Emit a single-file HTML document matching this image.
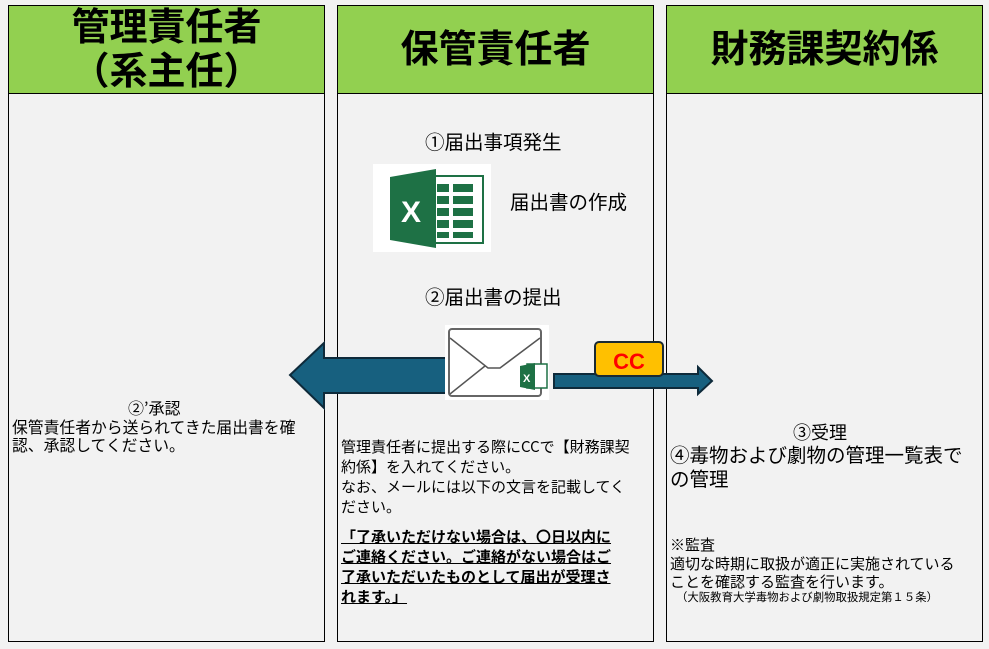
<!DOCTYPE html>
<html><head><meta charset="utf-8">
<style>
body{margin:0;width:989px;height:649px;background:#f2f2f2;position:relative;overflow:hidden;font-family:"Liberation Sans","Noto Sans CJK JP",sans-serif;}
.col{position:absolute;top:5px;height:637px;border:1px solid #000;background:#f2f2f2;box-sizing:border-box;}
.hd{position:absolute;left:0;right:0;top:0;height:87px;background:#92d050;border-bottom:1px solid #000;display:flex;align-items:center;justify-content:center;text-align:center;font-weight:bold;font-size:38px;line-height:44px;color:#000;}
.t{position:absolute;font-size:15px;line-height:18px;color:#000;white-space:nowrap;font-family:"Noto Sans CJK JP",sans-serif;}
</style></head><body>
<div class="col" style="left:8px;width:317px"><div class="hd">管理責任者<br>（系主任）</div></div>
<div class="col" style="left:337px;width:317px"><div class="hd">保管責任者</div></div>
<div class="col" style="left:666px;width:317px"><div class="hd">財務課契約係</div></div>

<div class="t" style="left:425px;top:129px;font-size:19.5px;line-height:24px">①届出事項発生</div>
<div style="position:absolute;left:373px;top:164px;width:118px;height:88px;background:#fff"></div>
<svg style="position:absolute;left:373px;top:164px" width="118" height="88">
<rect x="60" y="12" width="50" height="67" fill="#fff" stroke="#1e7145" stroke-width="2"/>
<g fill="#1e7145"><rect x="64" y="20" width="12" height="8"/><rect x="80" y="20" width="20" height="8"/>
<rect x="64" y="32" width="12" height="8"/><rect x="80" y="32" width="20" height="8"/>
<rect x="64" y="44" width="12" height="8"/><rect x="80" y="44" width="20" height="8"/>
<rect x="64" y="56" width="12" height="8"/><rect x="80" y="56" width="20" height="8"/>
<rect x="64" y="68" width="12" height="6"/><rect x="80" y="68" width="20" height="6"/></g>
<polygon points="17,13 63,5 63,84 17,76" fill="#1e7145"/>
<text x="28" y="58" font-family="Liberation Sans" font-weight="bold" font-size="30" fill="#fff">X</text>
</svg>
<div class="t" style="left:510px;top:189px;font-size:19.5px;line-height:24px">届出書の作成</div>
<div class="t" style="left:425px;top:284px;font-size:19.5px;line-height:24px">②届出書の提出</div>

<svg style="position:absolute;left:0;top:0" width="989" height="649">
<polygon points="446,358 324,358 324,343 290,375 324,408 324,393 446,393" fill="#17607f" stroke="#0e2a3a" stroke-width="2"/>
<polygon points="554,374 698,374 698,367 712,381 698,394 698,388 554,388" fill="#17607f" stroke="#0e2a3a" stroke-width="2"/>
<rect x="445" y="325" width="104" height="75" fill="#fff"/>
<rect x="449" y="329" width="92" height="67" rx="3" fill="#fff" stroke="#666" stroke-width="2"/>
<polyline points="450,338 488,368 500,368 540,338" fill="none" stroke="#555" stroke-width="1.5"/>
<line x1="450" y1="394" x2="485" y2="366" stroke="#555" stroke-width="1.5"/>
<rect x="527" y="364" width="20" height="24" fill="#fff" stroke="#1e7145" stroke-width="1.5"/>
<polygon points="520,366 535,363 535,390 520,387" fill="#1e7145"/>
<text x="523" y="382" font-family="Liberation Sans" font-weight="bold" font-size="11" fill="#fff">X</text>
<rect x="595" y="342" width="68" height="34" rx="4" fill="#ffc000" stroke="#1a2a33" stroke-width="2"/>
<text x="629" y="369" text-anchor="middle" font-family="Liberation Sans" font-weight="bold" font-size="22" fill="#ff0000">CC</text>
</svg>

<div class="t" style="left:128px;top:397px;font-size:16px;line-height:20px">②’承認</div>
<div class="t" style="left:12px;top:418px;font-size:15.8px">保管責任者から送られてきた届出書を確<br>認、承認してください。</div>

<div class="t" style="left:341px;top:437px;line-height:20px">管理責任者に提出する際にCCで【財務課契<br>約係】を入れてください。<br>なお、メールには以下の文言を記載してく<br>ださい。</div>
<div class="t" style="left:341px;top:527px;font-weight:bold;text-decoration:underline;line-height:20px">「了承いただけない場合は、〇日以内に<br>ご連絡ください。ご連絡がない場合はご<br>了承いただいたものとして届出が受理さ<br>れます。」</div>

<div class="t" style="left:793px;top:420px;font-size:18px;line-height:24px">③受理</div>
<div class="t" style="left:670px;top:442px;font-size:19.5px;line-height:24px">④毒物および劇物の管理一覧表で<br>の管理</div>
<div class="t" style="left:670px;top:536px;font-size:15px;line-height:18.5px">※監査<br>適切な時期に取扱が適正に実施されている<br>ことを確認する監査を行います。</div>
<div class="t" style="left:676px;top:590px;font-size:11.4px;line-height:14px">（大阪教育大学毒物および劇物取扱規定第１５条）</div>
</body></html>
